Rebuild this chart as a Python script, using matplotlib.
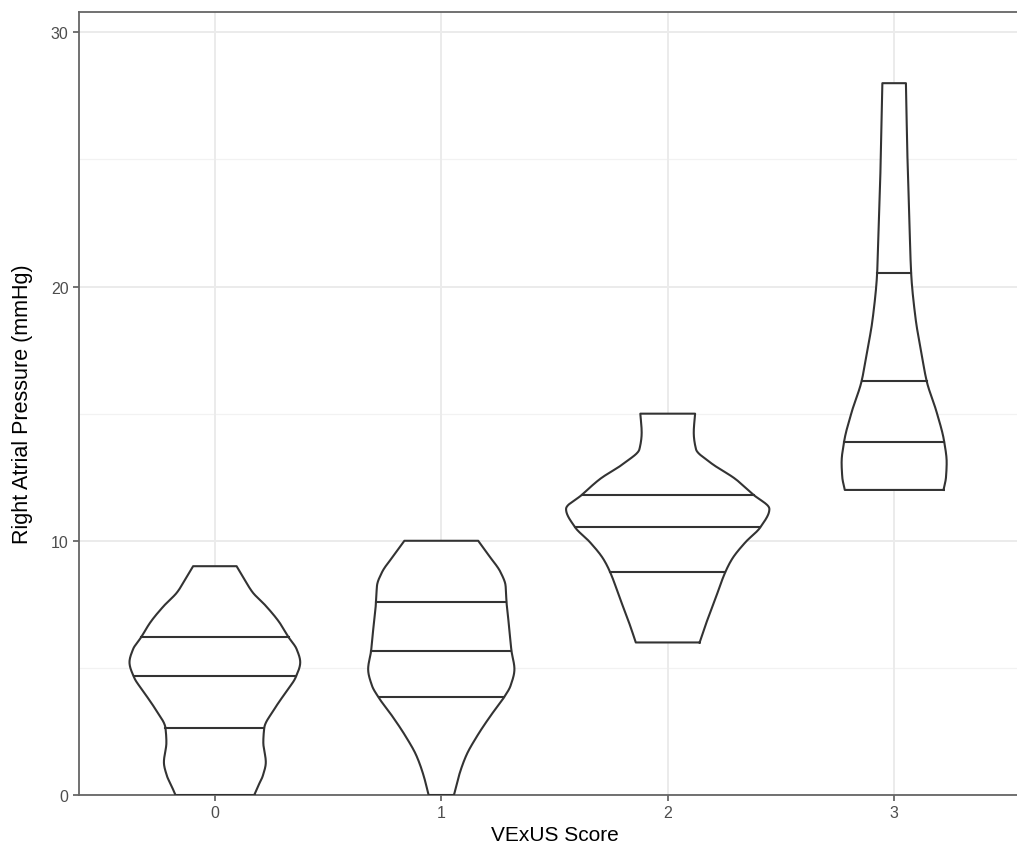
import numpy as np
import matplotlib
matplotlib.use("Agg")
import matplotlib.pyplot as plt

# ---- data ----
categories = ["0", "1", "2", "3"]
# violin outline profiles: y values (mmHg) and half-widths (category units)
prof_y_0 = [0.0, 0.37, 0.76, 1.29, 2.07, 2.63, 3.38, 4.04, 4.63, 5.22, 5.74, 6.2, 6.79, 7.44, 7.97, 8.49, 9.0]
prof_w_0 = [0.174, 0.192, 0.212, 0.225, 0.214, 0.218, 0.263, 0.313, 0.357, 0.377, 0.361, 0.326, 0.285, 0.225, 0.167, 0.130, 0.096]
prof_y_1 = [0.0, 0.76, 1.55, 2.33, 3.12, 3.84, 4.3, 4.95, 5.67, 6.66, 7.6, 8.23, 8.76, 9.41, 10.0]
prof_w_1 = [0.056, 0.078, 0.110, 0.159, 0.218, 0.277, 0.306, 0.323, 0.310, 0.299, 0.288, 0.284, 0.262, 0.211, 0.163]
prof_y_2 = [6.0, 6.66, 7.71, 8.78, 9.28, 9.94, 10.53, 11.25, 11.8, 12.43, 13.08, 13.6, 14.26, 15.0]
prof_w_2 = [0.141, 0.166, 0.210, 0.255, 0.284, 0.343, 0.409, 0.449, 0.380, 0.299, 0.188, 0.125, 0.115, 0.121]
prof_y_3 = [12.0, 12.5, 13.08, 13.9, 15.05, 16.27, 17.41, 18.72, 20.55, 23.04, 25.0, 28.0]
prof_w_3 = [0.218, 0.229, 0.232, 0.221, 0.188, 0.144, 0.120, 0.095, 0.075, 0.066, 0.059, 0.052]
# quartiles (25%, 50%, 75%)
quartiles_0 = [2.63, 4.67, 6.2]
quartiles_1 = [3.84, 5.67, 7.6]
quartiles_2 = [8.78, 10.53, 11.8]
quartiles_3 = [13.9, 16.27, 20.55]

profiles = [(prof_y_0, prof_w_0, quartiles_0),
            (prof_y_1, prof_w_1, quartiles_1),
            (prof_y_2, prof_w_2, quartiles_2),
            (prof_y_3, prof_w_3, quartiles_3)]

y_ticks = [0, 10, 20, 30]
x_label = "VExUS Score"
y_label = "Right Atrial Pressure (mmHg)"


def pchip(xk, yk, n=400):
    """Monotone piecewise cubic Hermite interpolation (Fritsch-Carlson)."""
    xk = np.asarray(xk, float)
    yk = np.asarray(yk, float)
    h = np.diff(xk)
    d = np.diff(yk) / h
    m = np.zeros_like(yk)
    for i in range(1, len(xk) - 1):
        if d[i - 1] * d[i] <= 0:
            m[i] = 0.0
        else:
            w1 = 2 * h[i] + h[i - 1]
            w2 = h[i] + 2 * h[i - 1]
            m[i] = (w1 + w2) / (w1 / d[i - 1] + w2 / d[i])
    m[0] = d[0]
    m[-1] = d[-1]
    xs = np.linspace(xk[0], xk[-1], n)
    idx = np.clip(np.searchsorted(xk, xs, side="right") - 1, 0, len(xk) - 2)
    t = (xs - xk[idx]) / h[idx]
    h00 = 2 * t ** 3 - 3 * t ** 2 + 1
    h10 = t ** 3 - 2 * t ** 2 + t
    h01 = -2 * t ** 3 + 3 * t ** 2
    h11 = t ** 3 - t ** 2
    ys = h00 * yk[idx] + h10 * h[idx] * m[idx] + h01 * yk[idx + 1] + h11 * h[idx] * m[idx + 1]
    return xs, ys


W, H = 1017, 845
fig = plt.figure(figsize=(W / 100, H / 100), dpi=100)
ax_left, ax_right, ax_bottom, ax_top = 79, 1030, 796, 13
ax = fig.add_axes([ax_left / W, (H - ax_bottom) / H, (ax_right - ax_left) / W, (ax_bottom - ax_top) / H])

ax.set_xlim(-0.6, 3.6)
ax.set_ylim(0, 30.8)

# grid
for yv in [5, 15, 25]:
    ax.axhline(yv, color="#f2f2f2", lw=0.9, zorder=0)
for yv in y_ticks:
    ax.axhline(yv, color="#ebebeb", lw=1.4, zorder=0)
for xi in range(len(categories)):
    ax.axvline(xi, color="#ebebeb", lw=1.4, zorder=0)

line_col = "#333333"
for xi, (py, pw, q) in enumerate(profiles):
    ys, ws = pchip(py, pw)
    xs_right = xi + ws
    xs_left = xi - ws
    X = np.concatenate([xs_right, xs_left[::-1], [xs_right[0]]])
    Y = np.concatenate([ys, ys[::-1], [ys[0]]])
    ax.fill(X, Y, color="white", zorder=2)
    ax.plot(X, Y, color=line_col, lw=1.5, zorder=3, solid_joinstyle="round")
    for qv in q:
        wq = np.interp(qv, ys, ws)
        ax.plot([xi - wq, xi + wq], [qv, qv], color=line_col, lw=1.5, zorder=3)

ax.set_xticks(range(len(categories)))
ax.set_xticklabels(categories)
ax.set_yticks(y_ticks)
ax.tick_params(axis="both", colors="#4d4d4d", labelsize=11.5, length=4, width=1.1,
               labelcolor="#4d4d4d")
for lab in ax.get_xticklabels() + ax.get_yticklabels():
    lab.set_family(["Liberation Sans", "DejaVu Sans"])

for s in ax.spines.values():
    s.set_color("#666666")
    s.set_linewidth(1.3)

ax.set_xlabel(x_label, fontsize=15, family=["Liberation Sans", "DejaVu Sans"], color="black", labelpad=3)
ax.set_ylabel(y_label, fontsize=15.5, family=["Liberation Sans", "DejaVu Sans"], color="black", labelpad=13)

fig.savefig("out.png", dpi=100)
